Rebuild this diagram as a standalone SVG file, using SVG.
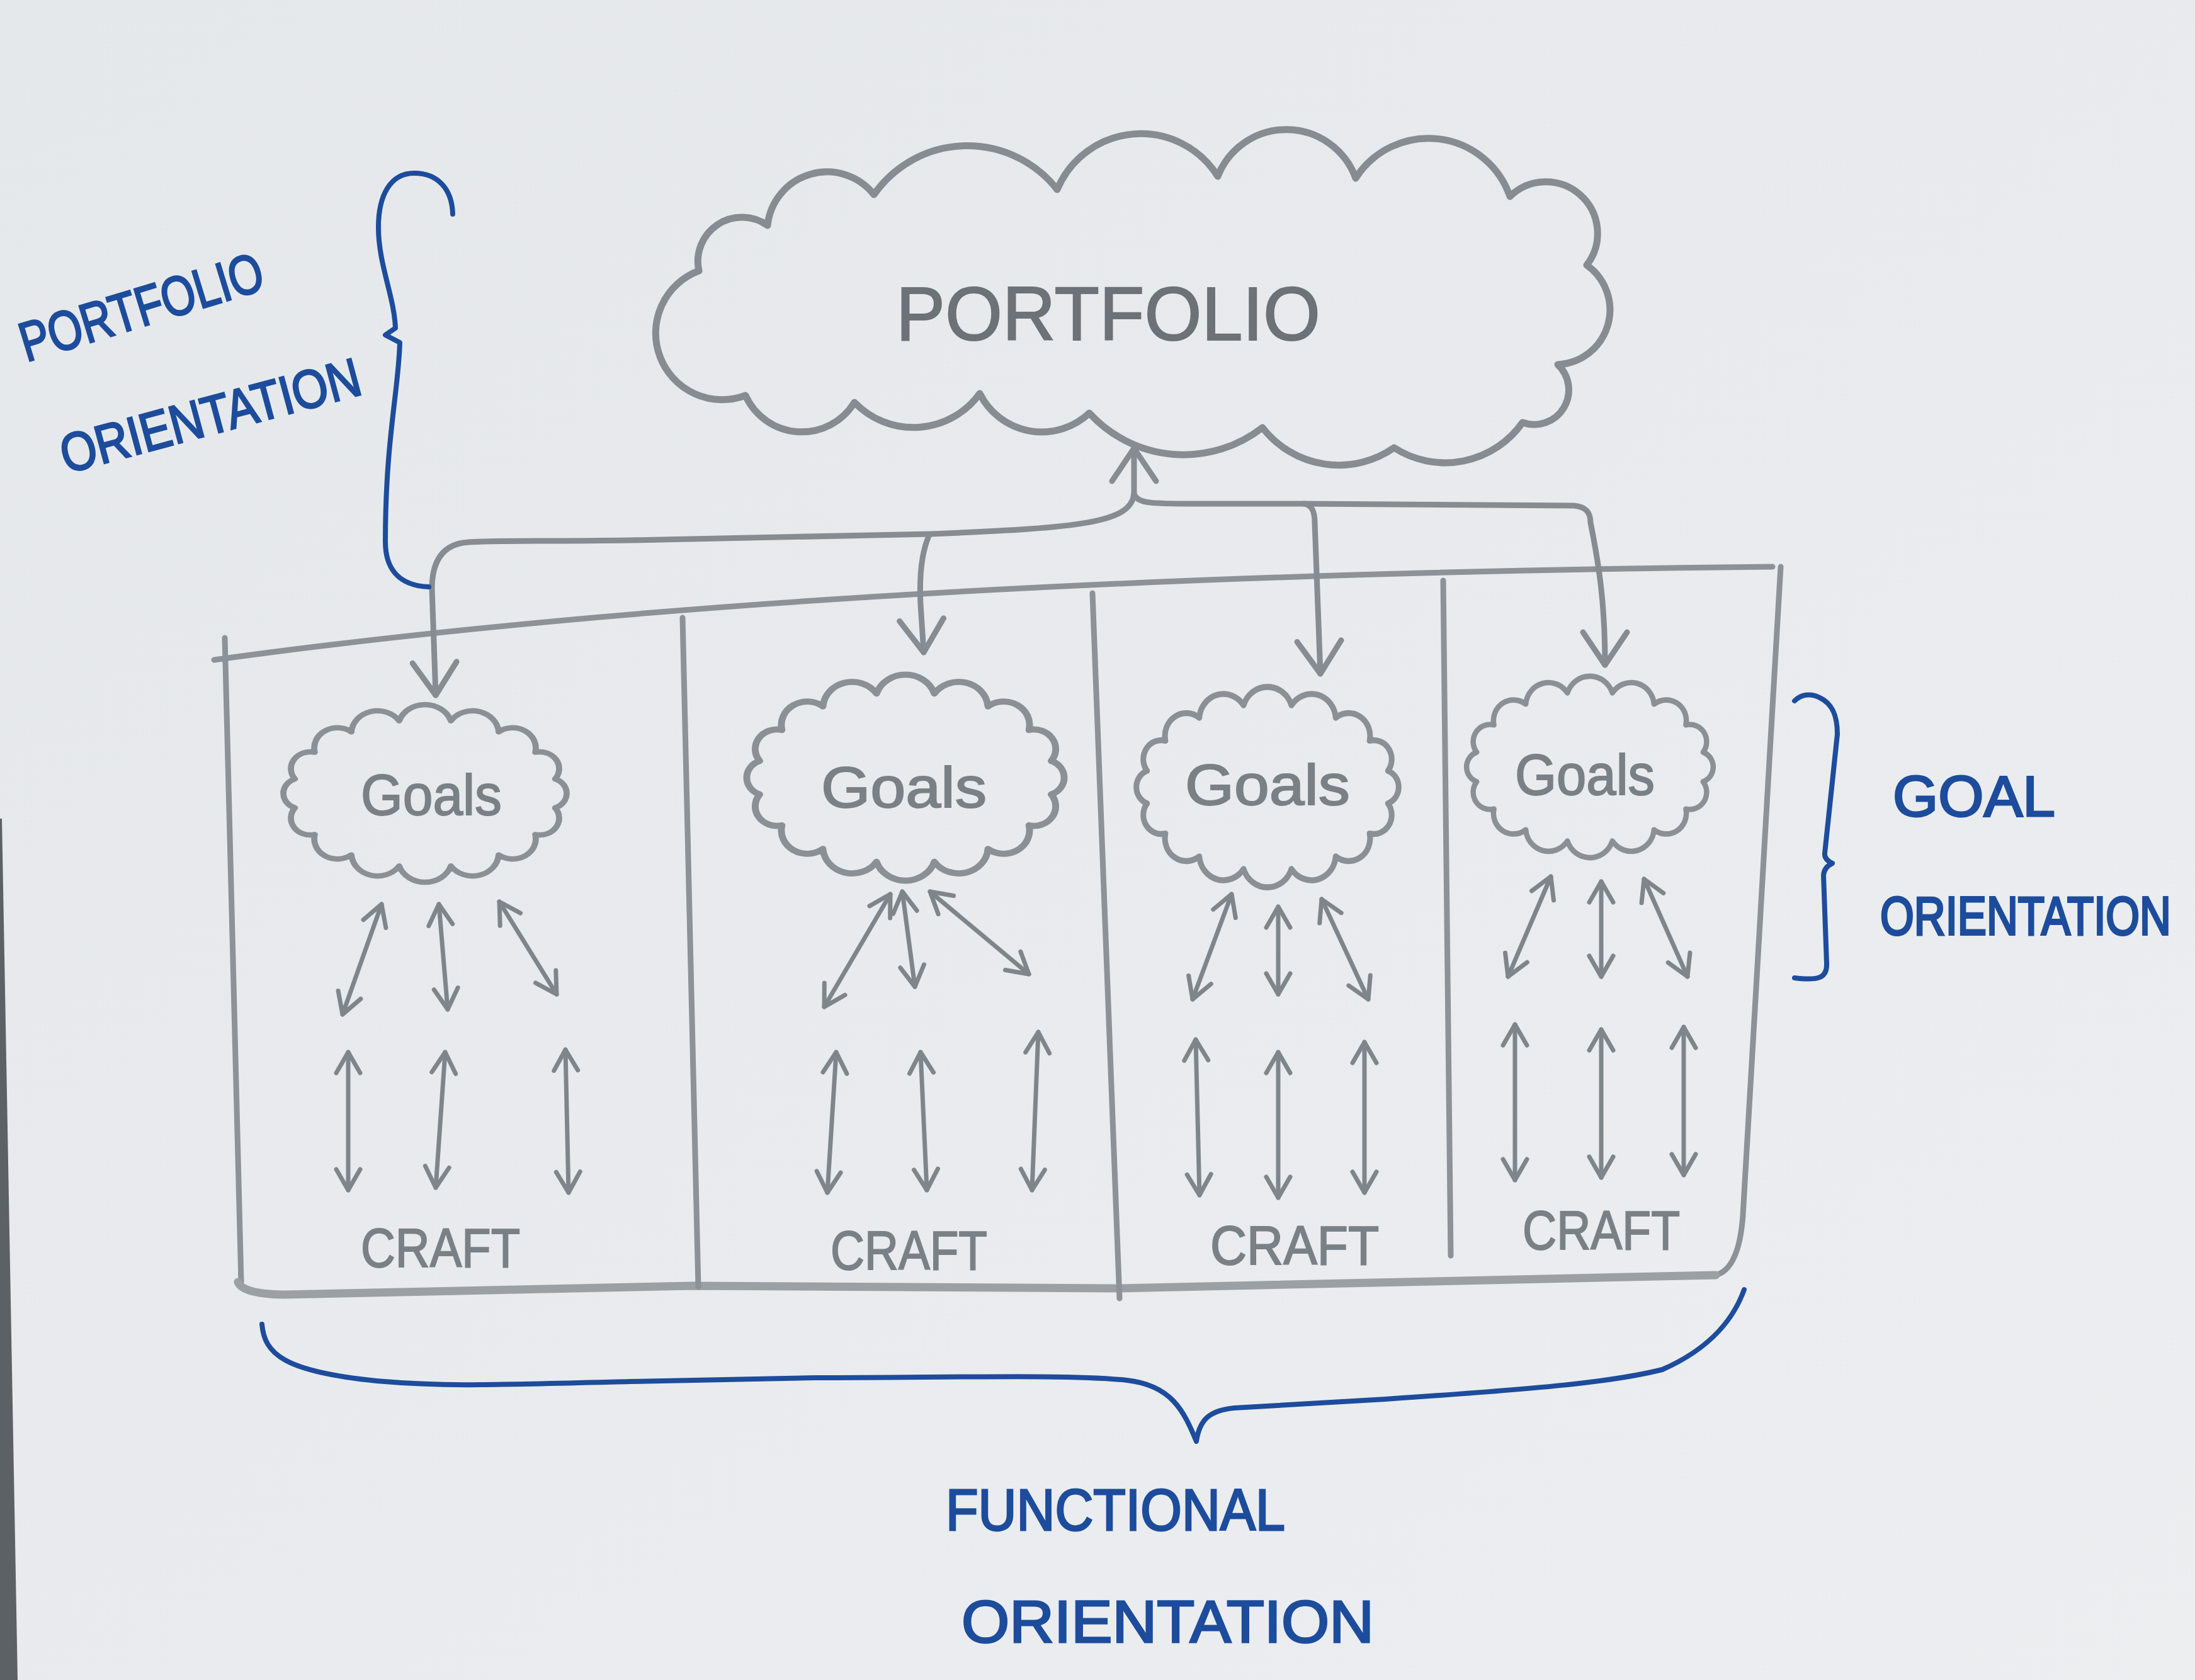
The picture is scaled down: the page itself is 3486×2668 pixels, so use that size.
<svg xmlns="http://www.w3.org/2000/svg" width="3486" height="2668" viewBox="0 0 3486 2668">
<defs>
<linearGradient id="paper" x1="0" y1="0" x2="1" y2="1">
<stop offset="0" stop-color="#e5e8eb"/>
<stop offset="1" stop-color="#eceef0"/>
</linearGradient>
<marker id="ah" markerUnits="userSpaceOnUse" viewBox="0 0 60 80" refX="55" refY="40" markerWidth="60" markerHeight="80" orient="auto-start-reverse" overflow="visible">
<path d="M3,5 L55,40 L3,75" fill="none" stroke="#868c91" stroke-width="9" stroke-linecap="round" stroke-linejoin="round"/>
</marker>
<marker id="as" markerUnits="userSpaceOnUse" viewBox="0 0 40 44" refX="36" refY="22" markerWidth="40" markerHeight="44" orient="auto-start-reverse" overflow="visible">
<path d="M3,3 L36,22 L3,41" fill="none" stroke="#7f868b" stroke-width="7" stroke-linecap="round" stroke-linejoin="round"/>
</marker>
<path id="gcloud" d="M191.3,24.4 A28.5,28.5 0 0 1 162.1,69.5 A34,34 0 0 1 108.3,103.9 A38.5,38.5 0 0 1 38,122.6 A40,40 0 0 1 -38,122.6 A38.5,38.5 0 0 1 -108.3,103.9 A34,34 0 0 1 -162.1,69.5 A28.5,28.5 0 0 1 -191.3,24.4 A26,26 0 0 1 -191.3,-24.4 A28.5,28.5 0 0 1 -162.1,-69.5 A34,34 0 0 1 -108.3,-103.9 A38.5,38.5 0 0 1 -38,-122.6 A40,40 0 0 1 38,-122.6 A38.5,38.5 0 0 1 108.3,-103.9 A34,34 0 0 1 162.1,-69.5 A28.5,28.5 0 0 1 191.3,-24.4 A26,26 0 0 1 191.3,24.4 Z"/>
</defs>
<style>
.pen{fill:none;stroke:#8c9297;stroke-width:9;stroke-linecap:round;stroke-linejoin:round}
.cl{fill:none;stroke:#8a9095;stroke-width:9;stroke-linejoin:round}
.big{fill:none;stroke:#868c91;stroke-width:11;stroke-linejoin:round;stroke-linecap:round}
.con{fill:none;stroke:#868c91;stroke-width:9;stroke-linecap:round;stroke-linejoin:round}
.arr{fill:none;stroke:#7f868b;stroke-width:7;stroke-linecap:round;marker-start:url(#as);marker-end:url(#as)}
.blue{fill:none;stroke:#1d4c9c;stroke-width:8;stroke-linecap:round;stroke-linejoin:round}
.gt{font-family:"Liberation Sans","DejaVu Sans",sans-serif;fill:#7a8186;stroke:#7a8186;stroke-width:2}
.bt{font-family:"Liberation Sans","DejaVu Sans",sans-serif;fill:#1d4c9c;stroke:#1d4c9c;stroke-width:3}
</style>
<rect width="3486" height="2668" fill="url(#paper)"/>
<polygon points="0,1300 3,1300 28,2668 0,2668" fill="#5c6166"/>

<g id="portfolio">
<path class="big" d="M1110,430 A70,70 0 0 1 1219,358 A95,95 0 0 1 1388,309 A181,181 0 0 1 1679,301 A144,144 0 0 1 1934,280 A117,117 0 0 1 2153,283 A137,137 0 0 1 2398,312 A82,82 0 0 1 2520,421 A87,87 0 0 1 2474,579 A55,55 0 0 1 2418,671 A150,150 0 0 1 2214,711 A153,153 0 0 1 2005,679 A203,203 0 0 1 1730,656 A110,110 0 0 1 1556,625 A130,130 0 0 1 1357,639 A98,98 0 0 1 1184,628 A102,102 0 0 1 1110,430 Z"/>
<text class="gt" x="1423" y="540" font-size="120" textLength="674" lengthAdjust="spacingAndGlyphs" style="fill:#6c7277;stroke:#6c7277">PORTFOLIO</text>
</g>

<g id="panel">
<path class="pen" d="M340,1048 Q1300,915 2815,900"/>
<path class="pen" d="M357,1013 L383,2035"/>
<path class="pen" d="M2828,900 L2768,1930 Q2762,2015 2725,2025"/>
<path class="pen" d="M2725,2025 L1776,2046 L1100,2042 L450,2056 Q385,2055 378,2036" style="stroke-width:13;stroke:#9ba0a4"/>
<path class="pen" d="M1084,981 L1109,2044"/>
<path class="pen" d="M1735,942 L1778,2062"/>
<path class="pen" d="M2292,922 L2304,1994"/>
</g>

<g id="goals-1">
<use href="#gcloud" class="cl" transform="translate(675,1260) scale(1.08,0.94)"/>
<text class="gt" x="573" y="1294" font-size="90" textLength="224" lengthAdjust="spacingAndGlyphs">Goals</text>
<text class="gt" x="573" y="2012" font-size="88" textLength="253" lengthAdjust="spacingAndGlyphs">CRAFT</text>
</g>
<g id="goals-2">
<use href="#gcloud" class="cl" transform="translate(1438,1235) scale(1.21,1.09)"/>
<text class="gt" x="1304" y="1282" font-size="90" textLength="263" lengthAdjust="spacingAndGlyphs">Goals</text>
<text class="gt" x="1319" y="2016" font-size="88" textLength="249" lengthAdjust="spacingAndGlyphs">CRAFT</text>
</g>
<g id="goals-3">
<use href="#gcloud" class="cl" transform="translate(2013,1250) scale(1.0,1.06)"/>
<text class="gt" x="1882" y="1278" font-size="90" textLength="262" lengthAdjust="spacingAndGlyphs">Goals</text>
<text class="gt" x="1922" y="2008" font-size="88" textLength="268" lengthAdjust="spacingAndGlyphs">CRAFT</text>
</g>
<g id="goals-4">
<use href="#gcloud" class="cl" transform="translate(2525,1218) scale(0.94,0.96)"/>
<text class="gt" x="2406" y="1262" font-size="90" textLength="222" lengthAdjust="spacingAndGlyphs">Goals</text>
<text class="gt" x="2418" y="1984" font-size="88" textLength="250" lengthAdjust="spacingAndGlyphs">CRAFT</text>
</g>

<g id="connectors">
<path class="con" d="M1801,790 L1801,712" marker-end="url(#ah)"/>
<path class="con" d="M1801,785 C1795,830 1720,838 1480,848 L1000,858 C850,860 760,858 735,862 C700,868 686,895 686,935 L692,1104" marker-end="url(#ah)"/>
<path class="con" d="M1476,849 C1462,880 1460,920 1462,960 L1467,1036" marker-end="url(#ah)"/>
<path class="con" d="M1801,785 C1808,800 1830,800 1900,800 L2071,800 C2085,802 2088,815 2088,830 L2097,1070" marker-end="url(#ah)"/>
<path class="con" d="M2071,800 L2500,803 C2520,805 2526,815 2526,830 C2540,900 2549,960 2549,1056" marker-end="url(#ah)"/>

<path class="arr" d="M606,1436 L544,1611"/>
<path class="arr" d="M697,1436 L711,1603"/>
<path class="arr" d="M793,1432 L884,1579"/>
<path class="arr" d="M553,1671 L553,1890"/>
<path class="arr" d="M707,1671 L692,1886"/>
<path class="arr" d="M898,1667 L903,1894"/>

<path class="arr" d="M1414,1420 L1309,1599"/>
<path class="arr" d="M1433,1416 L1453,1567"/>
<path class="arr" d="M1477,1416 L1634,1547"/>
<path class="arr" d="M1328,1671 L1314,1894"/>
<path class="arr" d="M1462,1671 L1472,1890"/>
<path class="arr" d="M1649,1639 L1639,1890"/>

<path class="arr" d="M1956,1420 L1894,1587"/>
<path class="arr" d="M2030,1440 L2030,1579"/>
<path class="arr" d="M2099,1428 L2173,1587"/>
<path class="arr" d="M1899,1651 L1905,1898"/>
<path class="arr" d="M2030,1671 L2030,1902"/>
<path class="arr" d="M2167,1655 L2167,1894"/>

<path class="arr" d="M2463,1392 L2395,1551"/>
<path class="arr" d="M2543,1400 L2543,1551"/>
<path class="arr" d="M2611,1396 L2680,1551"/>
<path class="arr" d="M2406,1627 L2406,1874"/>
<path class="arr" d="M2543,1635 L2543,1870"/>
<path class="arr" d="M2674,1631 L2674,1866"/>
</g>

<g id="portfolio-orientation">
<path class="blue" d="M719,340 C718,300 695,275 658,275 C620,275 601,310 601,361 C601,420 626,470 628,521 L612,532 L635,544 C633,620 612,700 612,860 C612,900 630,930 681,932"/>
<text class="bt" font-size="88" textLength="400" lengthAdjust="spacingAndGlyphs" transform="translate(42,575) rotate(-17)">PORTFOLIO</text>
<text class="bt" font-size="86" textLength="490" lengthAdjust="spacingAndGlyphs" transform="translate(105,752) rotate(-15)">ORIENTATION</text>
</g>

<g id="goal-orientation">
<path class="blue" d="M2850,1113 C2860,1103 2875,1100 2890,1108 C2912,1118 2918,1140 2918,1166 L2898,1355 Q2897,1365 2910,1371 Q2897,1377 2896,1390 L2901,1530 C2902,1552 2890,1558 2850,1553"/>
<text class="bt" x="3006" y="1296" font-size="90" textLength="258" lengthAdjust="spacingAndGlyphs">GOAL</text>
<text class="bt" font-size="68" textLength="462" lengthAdjust="spacingAndGlyphs" transform="translate(2986,1484) scale(1,1.25)">ORIENTATION</text>
</g>

<g id="functional-orientation">
<path class="blue" d="M416,2103 C420,2150 450,2178 598,2193 C700,2202 760,2200 1000,2194 L1295,2188 C1500,2188 1700,2182 1790,2192 C1860,2200 1880,2240 1900,2289 C1905,2255 1920,2240 1960,2236 L2200,2222 C2450,2205 2560,2195 2640,2175 C2720,2140 2755,2090 2770,2048"/>
<text class="bt" x="1502" y="2430" font-size="92" textLength="539" lengthAdjust="spacingAndGlyphs">FUNCTIONAL</text>
<text class="bt" x="1527" y="2608" font-size="95" textLength="655" lengthAdjust="spacingAndGlyphs">ORIENTATION</text>
</g>
</svg>
